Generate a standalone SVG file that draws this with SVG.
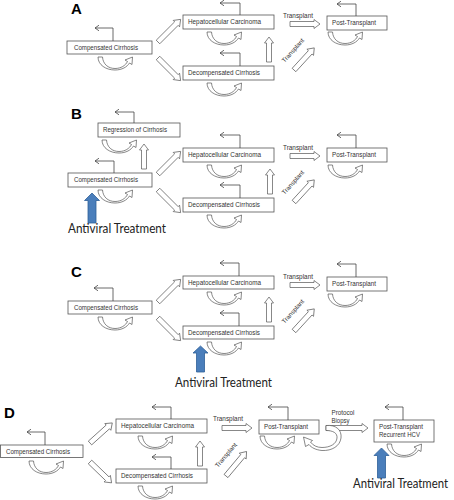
<svg xmlns="http://www.w3.org/2000/svg" xmlns:xlink="http://www.w3.org/1999/xlink" width="454" height="500" viewBox="0 0 454 500">
<style>
.box{fill:#fff;stroke:#555;stroke-width:0.8}
.lbl{font-family:"Liberation Sans",Arial,sans-serif;font-size:6.3px;fill:#333}
.pl{font-family:"Liberation Sans",Arial,sans-serif;font-size:15px;font-weight:bold;fill:#000}
.av{font-family:Lato,"Open Sans",sans-serif;font-size:14px;fill:#222}
.el{fill:none;stroke:#444;stroke-width:0.8;marker-end:url(#ah)}
.blk{fill:#fff;stroke:#555;stroke-width:0.7}
.cv{fill:#fff;stroke:#555;stroke-width:0.7}
.blue{fill:#4a7ebb;stroke:#2f5f98;stroke-width:0.8}
</style>
<defs>
<marker id="ah" markerWidth="8" markerHeight="8" refX="0" refY="0" viewBox="-6 -4 8 8" orient="auto" markerUnits="userSpaceOnUse"><path d="M-4,-2.8 L0,0 L-4,2.8" fill="none" stroke="#444" stroke-width="0.8"/></marker>
<path id="curve" d="M0,0 C0,8 8,13 17,13 C24,13 29,10 31.5,6 L34,7.5 L34.5,0 L27,3 L29.5,4.5 C27.5,8.5 23,11.5 17,11.5 C10,11.5 5,7 4.5,0 Z"/>
<path id="b25" d="M0,-2.5 H19 V-4.5 L25,0 L19,4.5 V2.5 H0 Z"/>
<path id="b30" d="M0,-2.5 H24 V-4.5 L30,0 L24,4.5 V2.5 H0 Z"/>
<path id="b32" d="M0,-2.5 H26 V-4.5 L32,0 L26,4.5 V2.5 H0 Z"/>
<path id="b42" d="M0,-2.5 H36 V-4.5 L42,0 L36,4.5 V2.5 H0 Z"/>
</defs>

<!-- Panel labels -->
<text class="pl" x="71" y="14">A</text>
<text class="pl" x="71" y="119">B</text>
<text class="pl" x="71" y="277">C</text>
<text class="pl" x="4" y="418">D</text>

<!-- ===== Panel A ===== -->
<g id="A-comp"><rect class="box" x="67" y="41" width="85" height="13"/><text class="lbl" x="74" y="49.8" textLength="64" lengthAdjust="spacingAndGlyphs">Compensated Cirrhosis</text></g>
<g id="A-hcc"><rect class="box" x="183" y="15" width="91" height="14"/><text class="lbl" x="188" y="24.2" textLength="73" lengthAdjust="spacingAndGlyphs">Hepatocellular Carcinoma</text></g>
<g id="A-decomp"><rect class="box" x="183" y="66" width="91" height="14"/><text class="lbl" x="188" y="75.2" textLength="72" lengthAdjust="spacingAndGlyphs">Decompensated Cirrhosis</text></g>
<g id="A-post"><rect class="box" x="327" y="16" width="60" height="14"/><text class="lbl" x="332" y="25.2" textLength="44" lengthAdjust="spacingAndGlyphs">Post-Transplant</text></g>

<!-- ===== Panel B ===== -->
<g id="B-regr"><rect class="box" x="98" y="123" width="82" height="14"/><text class="lbl" x="103" y="132.2" textLength="64" lengthAdjust="spacingAndGlyphs">Regression of Cirrhosis</text></g>
<g id="B-comp"><rect class="box" x="68" y="173" width="84" height="14"/><text class="lbl" x="74" y="182.2" textLength="64" lengthAdjust="spacingAndGlyphs">Compensated Cirrhosis</text></g>
<g id="B-hcc"><rect class="box" x="183" y="148" width="91" height="14"/><text class="lbl" x="188" y="157.2" textLength="73" lengthAdjust="spacingAndGlyphs">Hepatocellular Carcinoma</text></g>
<g id="B-decomp"><rect class="box" x="183" y="198" width="91" height="14"/><text class="lbl" x="188" y="207.2" textLength="72" lengthAdjust="spacingAndGlyphs">Decompensated Cirrhosis</text></g>
<g id="B-post"><rect class="box" x="327" y="148" width="60" height="14"/><text class="lbl" x="332" y="157.2" textLength="44" lengthAdjust="spacingAndGlyphs">Post-Transplant</text></g>
<g id="B-av"><path class="blue" d="M92,193 L99.5,200.5 H96 V223 H88 V200.5 H84.5 Z"/><text class="av" x="68" y="233" textLength="98" lengthAdjust="spacingAndGlyphs">Antiviral Treatment</text></g>

<!-- ===== Panel C ===== -->
<g id="C-comp"><rect class="box" x="68" y="301" width="84" height="13"/><text class="lbl" x="74" y="309.8" textLength="64" lengthAdjust="spacingAndGlyphs">Compensated Cirrhosis</text></g>
<g id="C-hcc"><rect class="box" x="183" y="276" width="91" height="13"/><text class="lbl" x="188" y="284.8" textLength="73" lengthAdjust="spacingAndGlyphs">Hepatocellular Carcinoma</text></g>
<g id="C-decomp"><rect class="box" x="183" y="326" width="91" height="13"/><text class="lbl" x="188" y="334.8" textLength="72" lengthAdjust="spacingAndGlyphs">Decompensated Cirrhosis</text></g>
<g id="C-post"><rect class="box" x="327" y="277" width="60" height="14"/><text class="lbl" x="332" y="286.2" textLength="44" lengthAdjust="spacingAndGlyphs">Post-Transplant</text></g>
<g id="C-av"><path class="blue" d="M200.5,346 L208,353 H204.5 V372 H196.5 V353 H193 Z"/><text class="av" x="175" y="387" textLength="97" lengthAdjust="spacingAndGlyphs">Antiviral Treatment</text></g>

<!-- ===== Panel D ===== -->
<g id="D-comp"><rect class="box" x="0.5" y="445" width="82.5" height="12.5"/><text class="lbl" x="6" y="453.6" textLength="64" lengthAdjust="spacingAndGlyphs">Compensated Cirrhosis</text></g>
<g id="D-hcc"><rect class="box" x="116" y="419" width="91" height="14"/><text class="lbl" x="121" y="428.2" textLength="73" lengthAdjust="spacingAndGlyphs">Hepatocellular Carcinoma</text></g>
<g id="D-decomp"><rect class="box" x="116" y="469" width="91" height="14"/><text class="lbl" x="121" y="478.2" textLength="72" lengthAdjust="spacingAndGlyphs">Decompensated Cirrhosis</text></g>
<g id="D-post"><rect class="box" x="259" y="420" width="60" height="14"/><text class="lbl" x="264" y="429.2" textLength="44" lengthAdjust="spacingAndGlyphs">Post-Transplant</text></g>
<g id="D-rec"><rect class="box" x="374" y="420" width="60" height="22"/><text class="lbl" x="379" y="428.5" textLength="44" lengthAdjust="spacingAndGlyphs">Post-Transplant</text><text class="lbl" x="379" y="437" textLength="41" lengthAdjust="spacingAndGlyphs">Recurrent HCV</text></g>
<g id="D-av"><path class="blue" d="M381.5,448 L389,455.5 H385.5 V478 H377.5 V455.5 H374 Z"/><text class="av" x="448" y="488" text-anchor="end" textLength="95" lengthAdjust="spacingAndGlyphs">Antiviral Treatment</text></g>

<!-- ===== Connectors ===== -->
<g id="connectors">
<!-- elbow self arrows -->
<path class="el" d="M113,41 V28 H95"/>
<path class="el" d="M240,15 V3 H220"/>
<path class="el" d="M240,66 V53 H220"/>
<path class="el" d="M356,16 V4 H337"/>
<path class="el" d="M134,123 V112 H115"/>
<path class="el" d="M114,173 V161 H95"/>
<path class="el" d="M240,148 V135 H220"/>
<path class="el" d="M240,198 V185 H220"/>
<path class="el" d="M356,148 V135 H337"/>
<path class="el" d="M113,301 V288 H94"/>
<path class="el" d="M239,276 V263 H220"/>
<path class="el" d="M239,326 V313 H220"/>
<path class="el" d="M356,277 V264 H337"/>
<path class="el" d="M45,445 V432 H27"/>
<path class="el" d="M171,419 V407 H152"/>
<path class="el" d="M171,469 V457 H152"/>
<path class="el" d="M288,420 V407 H268"/>
<path class="el" d="M403,420 V407 H385"/>

<!-- curved self-loop arrows -->
<use class="cv" href="#curve" x="98" y="57"/>
<use class="cv" href="#curve" x="207" y="32"/>
<use class="cv" href="#curve" x="207" y="83"/>
<use class="cv" href="#curve" x="328" y="32"/>
<use class="cv" href="#curve" x="102" y="140"/>
<use class="cv" href="#curve" x="98" y="190"/>
<use class="cv" href="#curve" x="207" y="165"/>
<use class="cv" href="#curve" x="207" y="215"/>
<use class="cv" href="#curve" x="328" y="165"/>
<use class="cv" href="#curve" x="98" y="317"/>
<use class="cv" href="#curve" x="207" y="292"/>
<use class="cv" href="#curve" x="207" y="342"/>
<use class="cv" href="#curve" x="328" y="294"/>
<use class="cv" href="#curve" x="29" y="461"/>
<use class="cv" href="#curve" x="138" y="436"/>
<use class="cv" href="#curve" x="138" y="486"/>
<use class="cv" href="#curve" x="260" y="436"/>
<use class="cv" href="#curve" x="387" y="444"/>

<!-- Panel A block arrows -->
<use class="blk" href="#b32" transform="translate(158,42) rotate(-45)"/>
<use class="blk" href="#b32" transform="translate(158,58) rotate(45)"/>
<use class="blk" href="#b25" transform="translate(269,62) rotate(-90)"/>
<use class="blk" href="#b30" transform="translate(290,24)"/>
<use class="blk" href="#b30" transform="translate(294,70) rotate(-47.5)"/>
<!-- Panel B block arrows -->
<use class="blk" href="#b25" transform="translate(144,169) rotate(-90)"/>
<use class="blk" href="#b32" transform="translate(158,174) rotate(-45)"/>
<use class="blk" href="#b32" transform="translate(158,190) rotate(45)"/>
<use class="blk" href="#b25" transform="translate(270,194) rotate(-90)"/>
<use class="blk" href="#b30" transform="translate(290,156)"/>
<use class="blk" href="#b30" transform="translate(294,202) rotate(-47.5)"/>
<!-- Panel C block arrows -->
<use class="blk" href="#b32" transform="translate(158,302) rotate(-45)"/>
<use class="blk" href="#b32" transform="translate(158,318) rotate(45)"/>
<use class="blk" href="#b25" transform="translate(269,322) rotate(-90)"/>
<use class="blk" href="#b30" transform="translate(290,285)"/>
<use class="blk" href="#b30" transform="translate(294,331) rotate(-47.5)"/>
<!-- Panel D block arrows -->
<use class="blk" href="#b30" transform="translate(90,443) rotate(-42)"/>
<use class="blk" href="#b30" transform="translate(90,462) rotate(44)"/>
<use class="blk" href="#b25" transform="translate(200,466) rotate(-90)"/>
<use class="blk" href="#b30" transform="translate(222,428)"/>
<use class="blk" href="#b32" transform="translate(226,476) rotate(-50)"/>
<use class="blk" href="#b42" transform="translate(326,428)"/>
<path class="cv" d="M326,425.5 C336,424.5 342,430 341,438 C340,446 332,451 322,450.5 C316,450 311,447.5 309,444.5 L305.5,446.5 L303.5,437 L312.5,440.5 L310.5,442 C313,445.5 317,447.5 322,447.5 C330,447.5 336.5,444 337,438 C337.5,433 333,430.5 326,430.5 Z"/>

<!-- connector labels -->
<text class="lbl" x="283" y="17.5" textLength="30" lengthAdjust="spacingAndGlyphs">Transplant</text>
<text class="lbl" x="0" y="0" textLength="30" lengthAdjust="spacingAndGlyphs" transform="translate(284.5,63) rotate(-48)">Transplant</text>
<text class="lbl" x="283" y="149.5" textLength="30" lengthAdjust="spacingAndGlyphs">Transplant</text>
<text class="lbl" x="0" y="0" textLength="30" lengthAdjust="spacingAndGlyphs" transform="translate(284.5,195) rotate(-48)">Transplant</text>
<text class="lbl" x="283" y="278.5" textLength="30" lengthAdjust="spacingAndGlyphs">Transplant</text>
<text class="lbl" x="0" y="0" textLength="30" lengthAdjust="spacingAndGlyphs" transform="translate(284.5,324) rotate(-48)">Transplant</text>
<text class="lbl" x="213" y="421" textLength="30" lengthAdjust="spacingAndGlyphs">Transplant</text>
<text class="lbl" x="0" y="0" textLength="30" lengthAdjust="spacingAndGlyphs" transform="translate(218,468) rotate(-50)">Transplant</text>
<text class="lbl" x="331.5" y="415" textLength="23" lengthAdjust="spacingAndGlyphs">Protocol</text>
<text class="lbl" x="331.5" y="423" textLength="18" lengthAdjust="spacingAndGlyphs">Biopsy</text>
</g>
</svg>
